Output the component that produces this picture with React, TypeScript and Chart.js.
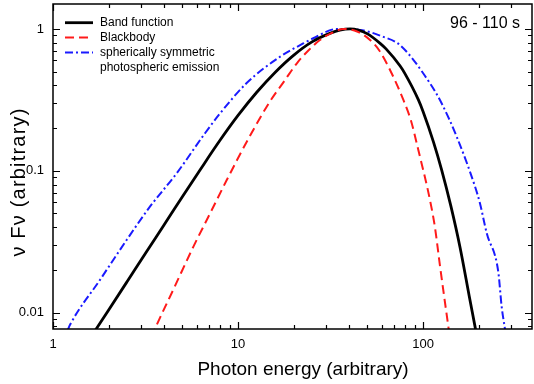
import React, { useEffect, useRef } from 'react';
import { Chart, registerables } from 'chart.js';

Chart.register(...registerables);

const FONT = '"Liberation Sans", Arial, Helvetica, sans-serif';

// ---- data ----
const bandE = [1.585, 1.995, 2.512, 3.162, 3.981, 5.012, 6.31, 7.94, 10, 12.59, 15.85, 19.95, 25.1, 31.6, 35.5, 40.3, 44.7, 50.1, 58.6, 63.1, 75.2, 79.4, 94.4, 100, 113.8, 125.9, 141.3, 158.5, 177.8, 191, 199.5];
const bandF = [0.00658, 0.0104, 0.0165, 0.0262, 0.0415, 0.0658, 0.1038, 0.162, 0.2455, 0.3565, 0.494, 0.652, 0.811, 0.935, 0.98, 1.0, 0.982, 0.923, 0.792, 0.724, 0.548, 0.49, 0.316, 0.262, 0.16, 0.102, 0.0565, 0.0288, 0.013, 0.00796, 0.00589];

const bbE = [3.4, 3.6, 4.5, 5.74, 7.0, 8.69, 11.4, 14.9, 17.8, 20.8, 24, 27.7, 32, 37.1, 44, 51.7, 58, 66.3, 78.3, 86, 94.3, 109, 116, 123.6, 137, 140];
const bbF = [0.0067, 0.00796, 0.0148, 0.0292, 0.0489, 0.086, 0.169, 0.309, 0.43, 0.573, 0.705, 0.836, 0.935, 1.0, 0.96, 0.836, 0.705, 0.514, 0.316, 0.226, 0.14, 0.0622, 0.0398, 0.0211, 0.00796, 0.0065];

const photE = [1.2, 1.236, 1.795, 2.5, 3.34, 4.66, 6.63, 8.0, 11.1, 16.9, 22.5, 25.5, 34.2, 45.7, 61, 75, 109, 126, 152, 191, 203, 221, 255, 266, 277, 285];
const photF = [0.0075, 0.0082, 0.017, 0.0325, 0.0558, 0.096, 0.184, 0.254, 0.414, 0.638, 0.79, 0.86, 1.0, 0.984, 0.88, 0.77, 0.414, 0.299, 0.174, 0.0773, 0.059, 0.0362, 0.0194, 0.011, 0.0077, 0.006];

const xTicks = [1, 2, 3, 4, 5, 6, 7, 8, 9, 10, 20, 30, 40, 50, 60, 70, 80, 90, 100, 200, 300];
const xMajor = [1, 10, 100];
const yTicks = [0.008, 0.009, 0.01, 0.02, 0.03, 0.04, 0.05, 0.06, 0.07, 0.08, 0.09, 0.1, 0.2, 0.3, 0.4, 0.5, 0.6, 0.7, 0.8, 0.9, 1];
const yMajor = [0.01, 0.1, 1];
const yLabels = ['0.01', '0.1', '1'];

const legendLabels = [['Band function'], ['Blackbody'], ['spherically symmetric', 'photospheric emission']];
const timeLabel = '96 - 110 s';
const xTitle = 'Photon energy (arbitrary)';
const yTitle = 'ν Fν (arbitrary)';

const X_MIN = 1;
const X_MAX = 388;
const Y_MIN = 0.00766;
const Y_MAX = 1.5;

const toPoints = (xs: number[], ys: number[]) => xs.map((x, i) => ({ x, y: ys[i] }));

const styles = {
  band: { color: '#000000', width: 2.8, dash: [] as number[] },
  bb: { color: '#ff1a1a', width: 2, dash: [9, 5] },
  phot: { color: '#1a1aff', width: 2, dash: [8, 3, 2, 3] },
};

const decorPlugin = {
  id: 'decor',
  afterDraw(chart: any) {
    const { ctx, chartArea } = chart;
    const { left, right, top, bottom } = chartArea;
    const xs = chart.scales.x;
    const ys = chart.scales.y;
    ctx.save();
    // frame
    ctx.strokeStyle = '#000';
    ctx.lineWidth = 1.5;
    ctx.setLineDash([]);
    ctx.strokeRect(left, top, right - left, bottom - top);
    // ticks
    ctx.lineWidth = 1.2;
    ctx.beginPath();
    xTicks.forEach((v) => {
      if (v < X_MIN || v > X_MAX) return;
      const px = Math.round(xs.getPixelForValue(v)) + 0.5;
      const len = xMajor.includes(v) ? 7 : 4;
      ctx.moveTo(px, bottom);
      ctx.lineTo(px, bottom - len);
      ctx.moveTo(px, top);
      ctx.lineTo(px, top + len);
    });
    yTicks.forEach((v) => {
      if (v < Y_MIN || v > Y_MAX) return;
      const py = Math.round(ys.getPixelForValue(v)) + 0.5;
      const len = yMajor.includes(v) ? 7 : 4;
      ctx.moveTo(left, py);
      ctx.lineTo(left + len, py);
      ctx.moveTo(right, py);
      ctx.lineTo(right - len, py);
    });
    ctx.stroke();

    // legend
    const rows = [
      { s: styles.band, y: 22.7 },
      { s: styles.bb, y: 37.5 },
      { s: styles.phot, y: 52.5 },
    ];
    ctx.font = `12px ${FONT}`;
    ctx.textBaseline = 'middle';
    ctx.textAlign = 'left';
    ctx.fillStyle = '#000';
    rows.forEach((r, i) => {
      ctx.beginPath();
      ctx.strokeStyle = r.s.color;
      ctx.lineWidth = r.s.width;
      ctx.setLineDash(r.s.dash);
      ctx.moveTo(65, r.y);
      ctx.lineTo(93, r.y);
      ctx.stroke();
      legendLabels[i].forEach((t, j) => {
        ctx.fillText(t, 100, r.y + j * 15.5);
      });
    });
    ctx.setLineDash([]);

    // time label
    ctx.font = `16px ${FONT}`;
    ctx.textAlign = 'right';
    ctx.textBaseline = 'middle';
    ctx.fillText(timeLabel, 520, 24);

    // axis titles
    ctx.font = `19px ${FONT}`;
    ctx.textAlign = 'center';
    ctx.textBaseline = 'alphabetic';
    ctx.fillText(xTitle, 303, 375);

    ctx.save();
    ctx.font = `20px ${FONT}`;
    try {
      (ctx as any).letterSpacing = '1.2px';
    } catch (e) {}
    ctx.translate(25, 182);
    ctx.rotate(-Math.PI / 2);
    ctx.fillText(yTitle, 0, 0);
    ctx.restore();

    ctx.restore();
  },
};

export default function App() {
  const ref = useRef<HTMLCanvasElement | null>(null);
  useEffect(() => {
    if (!ref.current) return;
    const chart = new Chart(ref.current, {
      type: 'line',
      data: {
        datasets: [
          {
            label: 'Blackbody',
            data: toPoints(bbE, bbF),
            borderColor: styles.bb.color,
            borderWidth: styles.bb.width,
            borderDash: styles.bb.dash,
            pointRadius: 0,
            fill: false,
            cubicInterpolationMode: 'monotone',
          },
          {
            label: 'Band function',
            data: toPoints(bandE, bandF),
            borderColor: styles.band.color,
            borderWidth: styles.band.width,
            pointRadius: 0,
            fill: false,
            cubicInterpolationMode: 'monotone',
          },
          {
            label: 'spherically symmetric photospheric emission',
            data: toPoints(photE, photF),
            borderColor: styles.phot.color,
            borderWidth: styles.phot.width,
            borderDash: styles.phot.dash,
            pointRadius: 0,
            fill: false,
            cubicInterpolationMode: 'monotone',
          },
        ],
      },
      options: {
        animation: false,
        responsive: false,
        maintainAspectRatio: false,
        layout: { padding: { top: 4, right: 2, left: 0, bottom: 0 } },
        plugins: { legend: { display: false }, tooltip: { enabled: false } },
        events: [],
        scales: {
          x: {
            type: 'logarithmic',
            min: X_MIN,
            max: X_MAX,
            position: 'bottom',
            grid: { display: false, drawTicks: false },
            border: { display: false },
            afterBuildTicks: (scale: any) => {
              scale.ticks = xTicks.map((v) => ({ value: v, major: xMajor.includes(v) }));
            },
            afterFit: (scale: any) => {
              scale.height = 55;
              scale.paddingLeft = 0;
              scale.paddingRight = 0;
              scale.paddingTop = 0;
              scale.paddingBottom = 0;
            },
            ticks: {
              autoSkip: false,
              maxRotation: 0,
              minRotation: 0,
              padding: 8,
              color: '#000',
              font: { family: FONT, size: 13 },
              callback: (value: any) => (xMajor.includes(Number(value)) ? String(value) : ''),
            },
          },
          y: {
            type: 'logarithmic',
            min: Y_MIN,
            max: Y_MAX,
            position: 'left',
            grid: { display: false, drawTicks: false },
            border: { display: false },
            afterBuildTicks: (scale: any) => {
              scale.ticks = yTicks.map((v) => ({ value: v, major: yMajor.includes(v) }));
            },
            afterFit: (scale: any) => {
              scale.width = 53;
              scale.paddingLeft = 0;
              scale.paddingRight = 0;
              scale.paddingTop = 0;
              scale.paddingBottom = 0;
            },
            ticks: {
              autoSkip: false,
              padding: 9,
              color: '#000',
              font: { family: FONT, size: 13 },
              callback: (value: any) => {
                const i = yMajor.indexOf(Number(value));
                return i >= 0 ? yLabels[i] : '';
              },
            },
          },
        },
      },
      plugins: [decorPlugin],
    } as any);
    return () => chart.destroy();
  }, []);

  return (
    <div style={{ position: 'fixed', left: 0, top: 0, width: 534, height: 384, background: '#fff' }}>
      <canvas ref={ref} width={534} height={384} style={{ display: 'block' }} />
    </div>
  );
}
